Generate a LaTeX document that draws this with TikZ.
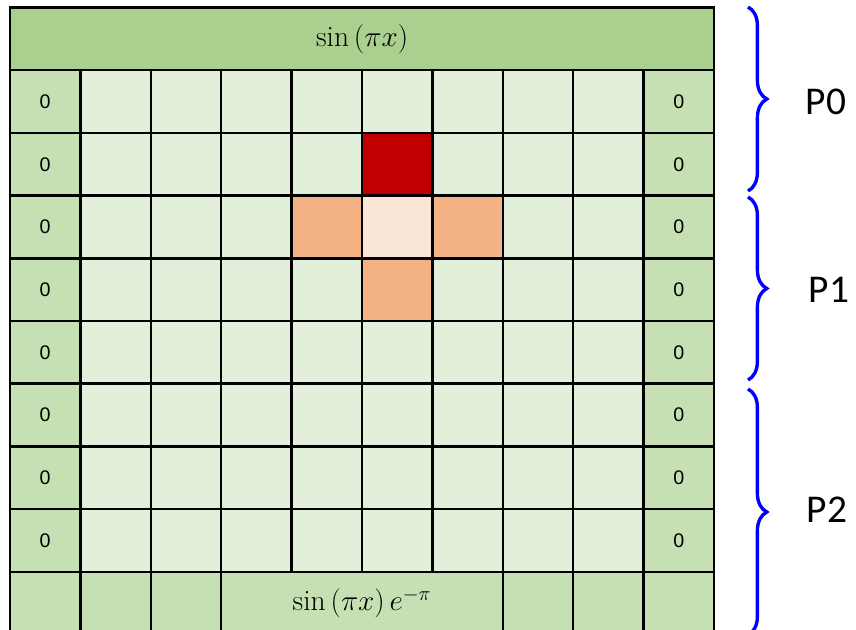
\documentclass[tikz,border=0pt]{standalone}
\usepackage{fontspec}
\setsansfont{Liberation Sans}
\newfontfamily\partfont{Carlito}
\usepackage{xcolor}
\usetikzlibrary{positioning, decorations.pathreplacing, calc}

\definecolor{topgreen}{HTML}{A9D08E}
\definecolor{edgegreen}{HTML}{C6E0B4}
\definecolor{innergreen}{HTML}{E2EFDA}
\definecolor{hotred}{HTML}{C00000}
\definecolor{warmorange}{HTML}{F4B183}
\definecolor{paleorange}{HTML}{FBE5D6}

\begin{document}
\begin{tikzpicture}[x=0.025cm, y=-0.025cm,
    cell/.style={draw, line width=1.8pt, fill=innergreen, anchor=north west,
                 minimum width=1.76cm, minimum height=1.5675cm,
                 inner sep=0pt, outer sep=0pt},
    side/.style={cell, fill=edgegreen, font=\sffamily\fontsize{14}{16}\selectfont},
    formula/.style={font=\fontsize{21}{25}\selectfont},
    brc/.style={decorate, decoration={brace, amplitude=0.47cm},
                draw=blue, line width=2.4pt},
    part/.style={font=\partfont\fontsize{28}{32}\selectfont},
]
\useasboundingbox (0,0) rectangle (856,630);

\foreach \r in {1,...,8} {
    \node[side] (l-\r) at (10,{7.5+62.7*\r}) {0};
    \foreach \c in {1,...,8}
        \node[cell] (c-\r-\c) at ({10+70.4*\c},{7.5+62.7*\r}) {};
    \node[side] (r-\r) at (643.6,{7.5+62.7*\r}) {0};
}

\node[cell, fill=hotred] (hot) at (362,132.9) {};
\node[cell, fill=paleorange] (mid) at (362,195.6) {};
\node[cell, fill=warmorange] (west) at (291.6,195.6) {};
\node[cell, fill=warmorange] (east) at (432.4,195.6) {};
\node[cell, fill=warmorange] (south) at (362,258.3) {};

\node[cell, fill=topgreen, minimum width=17.6cm] (top) at (10,7.5) {};
\node[formula] (toptext) at (top.center) {$\sin\,(\pi x)$};

\foreach \c in {0,1,2,7,8,9}
    \node[cell, fill=edgegreen] (b-\c) at ({10+70.4*\c},571.8) {};
\node[cell, fill=edgegreen, minimum width=7.04cm] (bot) at (221.2,571.8) {};
\node[formula] (bottext) at (bot.center) {$\sin\,(\pi x)\,e^{-\pi}$};

\coordinate (p0a) at (748,7);
\coordinate (p0b) at (748,191);
\coordinate (p1a) at (748,197);
\coordinate (p1b) at (748,380);
\coordinate (p2a) at (748,389);
\coordinate (p2b) at (748,635);
\draw[brc] (p0a) -- (p0b);
\draw[brc] (p1a) -- (p1b);
\draw[brc] (p2a) -- (p2b);

\node[part] (p0) at (826,102) {P0};
\node[part] (p1) at (829,290) {P1};
\node[part] (p2) at (827,510) {P2};
\end{tikzpicture}
\end{document}
